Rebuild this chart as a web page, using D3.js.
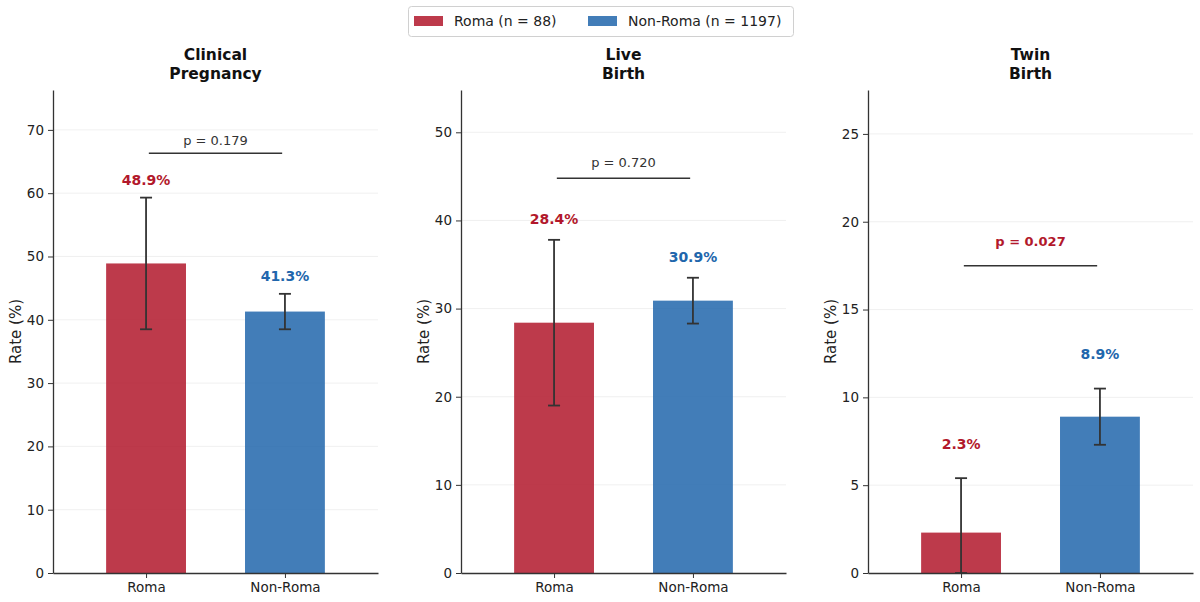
<!DOCTYPE html>
<html>
<head>
<meta charset="utf-8">
<script src="https://cdn.jsdelivr.net/npm/d3@7"></script>
<style>
  body { margin: 0; background: #fff; }
  svg { font-family: "DejaVu Sans", sans-serif; }
</style>
</head>
<body>
<div id="chart-area"></div>
<script>
// Data
var titles = [["Clinical", "Pregnancy"], ["Live", "Birth"], ["Twin", "Birth"]];
var groups = ["Roma", "Non-Roma"];
var legendLabels = ["Roma (n = 88)", "Non-Roma (n = 1197)"];
var romaRate = [48.9, 28.4, 2.3];
var romaLow = [38.5, 19.0, 0.0];
var romaHigh = [59.3, 37.8, 5.4];
var nonRomaRate = [41.3, 30.9, 8.9];
var nonRomaLow = [38.5, 28.3, 7.3];
var nonRomaHigh = [44.1, 33.5, 10.5];
var pValues = [0.179, 0.720, 0.027];
var yTicks = [
  [0, 10, 20, 30, 40, 50, 60, 70],
  [0, 10, 20, 30, 40, 50],
  [0, 5, 10, 15, 20, 25]
];

var colors = ["#B2182B", "#2166AC"];

var W = 1200, H = 602;
var panelLeft = [53, 461, 868];
var panelW = 325;
var plotTop = 90, plotBottom = 573;

var svg = d3.select("#chart-area").append("svg")
    .attr("width", W)
    .attr("height", H);

// Legend
var lg = svg.append("g");
lg.append("rect")
  .attr("x", 408.5).attr("y", 6.5)
  .attr("width", 385).attr("height", 30)
  .attr("rx", 3)
  .attr("fill", "#fff")
  .attr("stroke", "#d0d0d0");
var legendX = [414, 588];
legendLabels.forEach((t, i) => {
  lg.append("rect")
    .attr("x", legendX[i]).attr("y", 16)
    .attr("width", 29).attr("height", 10)
    .attr("fill", colors[i]).attr("fill-opacity", 0.85);
  lg.append("text")
    .attr("x", legendX[i] + 40).attr("y", 26)
    .attr("font-size", "14px")
    .attr("fill", "#222")
    .text(t);
});

// Panels
titles.forEach((title, k) => {
  var g = svg.append("g")
    .attr("transform", "translate(" + panelLeft[k] + ",0)");

  var rates = [romaRate[k], nonRomaRate[k]];
  var lows = [romaLow[k], nonRomaLow[k]];
  var highs = [romaHigh[k], nonRomaHigh[k]];
  var maxHigh = d3.max(highs);
  var pLine = maxHigh + 7;
  var yMax = pLine + 10;

  var x = d3.scaleLinear().domain([-0.67, 1.67]).range([0, panelW]);
  var y = d3.scaleLinear().domain([0, yMax]).range([plotBottom, plotTop]);
  var bw = x(0.575) - x(0);

  // grid
  g.selectAll(".grid").data(yTicks[k].slice(1)).enter()
    .append("line")
      .attr("x1", 0).attr("x2", panelW)
      .attr("y1", d => y(d)).attr("y2", d => y(d))
      .attr("stroke", "#ececec").attr("stroke-width", 0.8);

  // bars
  g.selectAll(".bar").data(rates).enter()
    .append("rect")
      .attr("x", (d, i) => x(i) - bw / 2)
      .attr("y", d => y(d))
      .attr("width", bw)
      .attr("height", d => plotBottom - y(d))
      .attr("fill", (d, i) => colors[i])
      .attr("fill-opacity", 0.85);

  // error bars
  rates.forEach((d, i) => {
    var cx = x(i);
    g.append("line")
      .attr("x1", cx).attr("x2", cx)
      .attr("y1", y(lows[i])).attr("y2", y(highs[i]))
      .attr("stroke", "#333").attr("stroke-width", 1.8);
    [lows[i], highs[i]].forEach(v => {
      g.append("line")
        .attr("x1", cx - 6).attr("x2", cx + 6)
        .attr("y1", y(v)).attr("y2", y(v))
        .attr("stroke", "#333").attr("stroke-width", 1.8);
    });
    g.append("text")
      .attr("x", cx)
      .attr("y", y(highs[i] + 1.5) - 3)
      .attr("text-anchor", "middle")
      .attr("font-size", "14px")
      .attr("font-weight", "bold")
      .attr("fill", colors[i])
      .text(d.toFixed(1) + "%");
  });

  // significance line
  g.append("line")
    .attr("x1", x(0.02)).attr("x2", x(0.98))
    .attr("y1", y(pLine)).attr("y2", y(pLine))
    .attr("stroke", "#333").attr("stroke-width", 1.5);
  var sig = pValues[k] < 0.05;
  g.append("text")
    .attr("x", x(0.5))
    .attr("y", y(pLine + 1) - 2)
    .attr("text-anchor", "middle")
    .attr("font-size", "13px")
    .attr("font-weight", sig ? "bold" : "normal")
    .attr("fill", sig ? colors[0] : "#333")
    .text("p = " + pValues[k].toFixed(3));

  // axes
  var yAxis = g.append("g")
    .call(d3.axisLeft(y).tickValues(yTicks[k]).tickSize(5).tickSizeOuter(0).tickPadding(4));
  var xAxis = g.append("g")
    .attr("transform", "translate(0," + plotBottom + ")")
    .call(d3.axisBottom(x).tickValues([0, 1]).tickFormat((d, i) => groups[i]).tickSize(5).tickSizeOuter(0).tickPadding(4));
  [yAxis, xAxis].forEach(a => {
    a.select(".domain").attr("stroke", "#333").attr("stroke-width", 1.3);
    a.selectAll(".tick line").attr("stroke", "#333");
    a.selectAll(".tick text")
      .attr("font-size", "13.5px")
      .attr("fill", "#222")
      .attr("font-family", "DejaVu Sans, sans-serif");
  });

  // y label
  g.append("text")
    .attr("transform", "rotate(-90)")
    .attr("x", -(plotTop + plotBottom) / 2)
    .attr("y", -32)
    .attr("text-anchor", "middle")
    .attr("font-size", "15px")
    .attr("fill", "#222")
    .text("Rate (%)");

  // title
  title.forEach((line, j) => {
    g.append("text")
      .attr("x", panelW / 2)
      .attr("y", 60 + j * 19)
      .attr("text-anchor", "middle")
      .attr("font-size", "15.5px")
      .attr("font-weight", "bold")
      .attr("fill", "#111")
      .text(line);
  });
});
</script>
</body>
</html>
